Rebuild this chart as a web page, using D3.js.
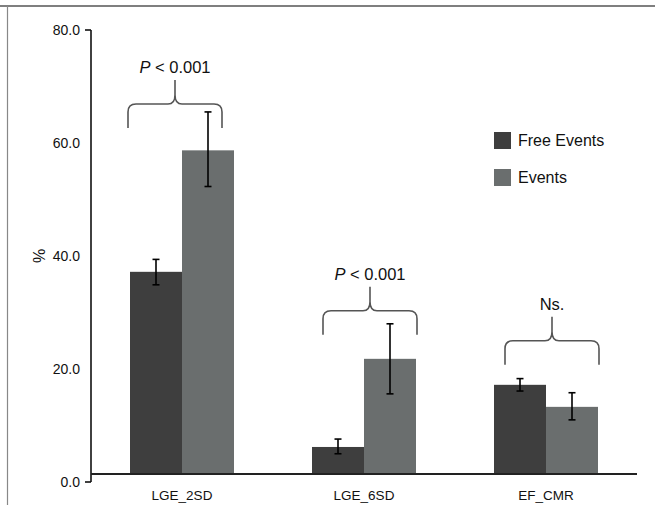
<!DOCTYPE html>
<html>
<head>
<meta charset="utf-8">
<script src="https://cdn.jsdelivr.net/npm/d3@7"></script>
<style>
  body { margin: 0; background: #fff; }
  text { font-family: "Liberation Sans", Arial, sans-serif; fill: #111; }
</style>
</head>
<body>
<script>
// chart values
var categories = ["LGE_2SD", "LGE_6SD", "EF_CMR"];
var seriesNames = ["Free Events", "Events"];
var freeValues = [37.2, 6.2, 17.2];
var freeLow = [34.9, 5.0, 16.1];
var freeHigh = [39.4, 7.6, 18.3];
var eventValues = [58.7, 21.8, 13.3];
var eventLow = [52.3, 15.6, 11.0];
var eventHigh = [65.5, 28.0, 15.8];
var yTicks = [0, 20, 40, 60, 80];
var annotations = ["P < 0.001", "P < 0.001", "Ns."];
var braceLevels = [66.9, 30.3, 25.0];

var colors = ["#3e3e3e", "#6a6e6e"];

var width = 655, height = 505;
var svg = d3.select("body").append("svg")
    .attr("width", width)
    .attr("height", height);

// frame (top + left only, like the cropped figure)
svg.append("line").attr("x1", 0).attr("x2", width).attr("y1", 6).attr("y2", 6)
    .attr("stroke", "#555").attr("stroke-width", 1.5);
svg.append("line").attr("x1", 7.5).attr("x2", 7.5).attr("y1", 6).attr("y2", height)
    .attr("stroke", "#888").attr("stroke-width", 1.2);

var y = d3.scaleLinear().domain([0, 80]).range([482, 30]);
var baseline = 474;

var x = d3.scaleBand().domain(categories).range([91, 637]).padding(0);
var x1 = d3.scaleBand().domain(seriesNames).range([-52, 52]).padding(0);

// rows of data for each bar
var rows = [];
categories.forEach(function(c, i) {
    rows.push({cat: c, s: seriesNames[0], v: freeValues[i], lo: freeLow[i], hi: freeHigh[i], k: 0});
    rows.push({cat: c, s: seriesNames[1], v: eventValues[i], lo: eventLow[i], hi: eventHigh[i], k: 1});
});

var cx = function(d) { return x(d.cat) + x.bandwidth() / 2; };

svg.selectAll(".bar")
    .data(rows).enter()
    .append("rect")
    .attr("class", "bar")
    .attr("x", function(d) { return cx(d) + x1(d.s); })
    .attr("width", x1.bandwidth())
    .attr("y", function(d) { return y(d.v); })
    .attr("height", function(d) { return baseline - y(d.v); })
    .attr("fill", function(d) { return colors[d.k]; });

// error bars
var err = svg.selectAll(".err")
    .data(rows).enter()
    .append("g")
    .attr("class", "err")
    .attr("stroke", "#000")
    .attr("stroke-width", 1.6);

var ex = function(d) { return cx(d) + x1(d.s) + x1.bandwidth() / 2; };
err.append("line")
    .attr("x1", ex).attr("x2", ex)
    .attr("y1", function(d) { return y(d.hi); })
    .attr("y2", function(d) { return y(d.lo); });
err.append("line")
    .attr("x1", function(d) { return ex(d) - 3.5; }).attr("x2", function(d) { return ex(d) + 3.5; })
    .attr("y1", function(d) { return y(d.hi); }).attr("y2", function(d) { return y(d.hi); });
err.append("line")
    .attr("x1", function(d) { return ex(d) - 3.5; }).attr("x2", function(d) { return ex(d) + 3.5; })
    .attr("y1", function(d) { return y(d.lo); }).attr("y2", function(d) { return y(d.lo); });

// axes
svg.append("line")
    .attr("x1", 91).attr("x2", 91).attr("y1", y(80)).attr("y2", y(0))
    .attr("stroke", "#111").attr("stroke-width", 1.6);
svg.append("line")
    .attr("x1", 91).attr("x2", 637).attr("y1", baseline).attr("y2", baseline)
    .attr("stroke", "#222").attr("stroke-width", 1.8);

[0, 80].forEach(function(t) {
    svg.append("line")
        .attr("x1", 85).attr("x2", 91).attr("y1", y(t)).attr("y2", y(t))
        .attr("stroke", "#111").attr("stroke-width", 1.6);
});

svg.selectAll(".ytick")
    .data(yTicks).enter()
    .append("text")
    .attr("class", "ytick")
    .attr("x", 80)
    .attr("y", function(d) { return y(d); })
    .attr("dy", "0.36em")
    .attr("text-anchor", "end")
    .attr("font-size", 14)
    .text(function(d) { return d3.format(".1f")(d); });

svg.append("text")
    .attr("transform", "translate(45," + y(40) + ") rotate(-90)")
    .attr("text-anchor", "middle")
    .attr("font-size", 16)
    .text("%");

svg.selectAll(".xlab")
    .data(categories).enter()
    .append("text")
    .attr("class", "xlab")
    .attr("x", function(d) { return x(d) + x.bandwidth() / 2; })
    .attr("y", 500)
    .attr("text-anchor", "middle")
    .attr("font-size", 13.5)
    .text(function(d) { return d; });

// braces with significance labels
var braceHalf = 47;
var bracePath = function(xc, yH) {
    var x0 = xc - braceHalf, x2 = xc + braceHalf;
    var yE = yH + 24, yP = yH - 24, r = 8;
    return "M" + x0 + "," + yE +
        "L" + x0 + "," + (yH + r) +
        "Q" + x0 + "," + yH + " " + (x0 + r) + "," + yH +
        "L" + (xc - 7) + "," + yH +
        "Q" + xc + "," + yH + " " + xc + "," + (yH - 9) +
        "L" + xc + "," + yP +
        "M" + xc + "," + (yH - 9) +
        "Q" + xc + "," + yH + " " + (xc + 7) + "," + yH +
        "L" + (x2 - r) + "," + yH +
        "Q" + x2 + "," + yH + " " + x2 + "," + (yH + r) +
        "L" + x2 + "," + yE;
};

categories.forEach(function(c, i) {
    var xc = x(c) + x.bandwidth() / 2 + (i === 0 ? -7 : 6);
    var yH = y(braceLevels[i]);
    svg.append("path")
        .attr("d", bracePath(xc, yH))
        .attr("fill", "none")
        .attr("stroke", "#555")
        .attr("stroke-width", 1.6);
    var t = svg.append("text")
        .attr("x", xc)
        .attr("y", yH - 31)
        .attr("text-anchor", "middle")
        .attr("font-size", 16.5);
    var lab = annotations[i];
    if (lab.charAt(0) === "P") {
        t.append("tspan").attr("font-style", "italic").text("P");
        t.append("tspan").text(lab.slice(1));
    } else {
        t.text(lab);
    }
});

// legend
var legend = svg.selectAll(".legend")
    .data(seriesNames).enter()
    .append("g")
    .attr("class", "legend")
    .attr("transform", function(d, i) { return "translate(494," + (132 + i * 37) + ")"; });
legend.append("rect")
    .attr("width", 17).attr("height", 17)
    .attr("fill", function(d, i) { return colors[i]; });
legend.append("text")
    .attr("x", 24).attr("y", 14)
    .attr("font-size", 16)
    .text(function(d) { return d; });
</script>
</body>
</html>
